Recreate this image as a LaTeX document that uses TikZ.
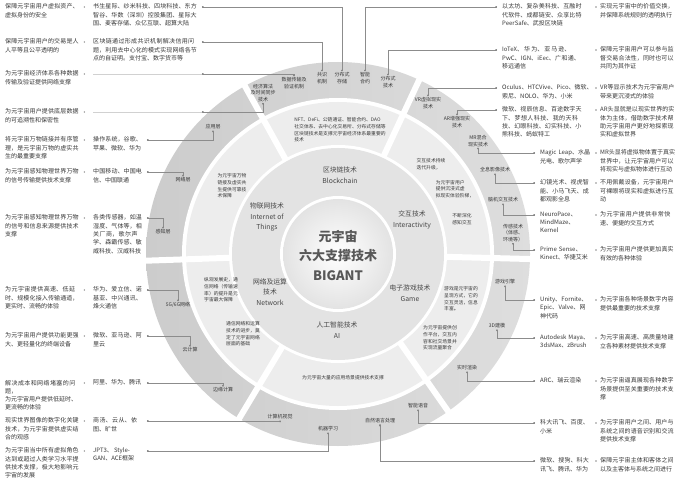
\documentclass[tikz,border=0pt]{standalone}
\usepackage{fontspec}
\setmainfont{Noto Sans CJK SC}
\XeTeXlinebreaklocale "zh"
\XeTeXlinebreakskip=0pt plus 1pt
\usetikzlibrary{arrows.meta}
\colorlet{ink}{black!78}
\colorlet{wire}{black!45}

\begin{document}
\begin{tikzpicture}
		[x=1pt, y=1pt,
		desc/.style ={anchor=north west, inner sep=0pt, text width=75pt, align=left, text=ink, font=\fontsize{6}{8.3}\selectfont},
		firm/.style ={desc, text width=50pt},
		firmwide/.style ={desc, text width=105pt},
		firmright/.style ={desc, text width=81pt},
		seg/.style ={inner sep=1pt, align=center, text=ink, font=\fontsize{5}{6.4}\selectfont},
		tech/.style ={align=center, text=black!72, font=\fontsize{6.8}{10.5}\selectfont},
		note/.style ={inner sep=0pt, align=left, text=ink, font=\fontsize{4.8}{6.6}\selectfont},
		core/.style ={text=black!66, font=\fontsize{13}{15}\selectfont\bfseries},
		lead/.style ={draw=wire, line width=0.45pt, arrows={Circle[length=1.7pt]-Circle[length=1.7pt]}},
		faint/.style ={draw=black!18, line width=0.4pt},
		elbow/.style ={to path={|- (\tikztotarget)}},
		gap/.style ={draw=white, line width=6pt},
		]

		\fill[white] (0,0) rectangle (700,-478);
		\useasboundingbox (0,0) rectangle (700,-478);

		% rings
		\coordinate (ctr) at (338,-254);
		\shade[left color=gray!40, right color=gray!26] (ctr) circle[radius=192];
		\fill[white] (ctr) circle[radius=156];
		\fill[gray!14] (ctr) circle[radius=152];
		\fill[white] (ctr) circle[radius=109];
		\fill[gray!22] (ctr) circle[radius=106];
		\fill[white] (ctr) circle[radius=58];
		\shade[inner color=white, outer color=gray!22] (ctr) circle[radius=55];
		\foreach \a in {65,119,182,239,305,358.5}
			\draw[gap] ([shift={(\a:108)}]ctr) -- ([shift={(\a:195)}]ctr);

		\draw (338,-236) node[core] (ttlA) {元宇宙};
		\draw (338,-256) node[core] (ttlB) {六大支撑技术};
		\draw (338,-276) node[core] (ttlC) {BIGANT};

		\draw (340,-175) node[tech] (tChain) {区块链技术\\Blockchain};
		\draw (267,-217) node[tech] (tIoT) {物联网技术\\Internet of\\Things};
		\draw (412,-220) node[tech] (tInter) {交互技术\\Interactivity};
		\draw (270,-292) node[tech] (tNet) {网络及运算\\技术\\Network};
		\draw (410,-293) node[tech] (tGame) {电子游戏技术\\Game};
		\draw (337,-330) node[tech] (tAI) {人工智能技术\\AI};

		\draw (340,-130) node[note] (nChain) {NFT、DeFi、公链通证、智能合约、DAO\\社交体系、去中心化交易所、分布式存储等\\区块链技术是支撑元宇宙经济体系最重要的\\技术};
		\draw (232,-186) node[note] (nIoT) {为元宇宙万物\\链接及虚实共\\生提供可靠技\\术保障};
		\draw (431,-164) node[note] (nInterA) {交互技术持续\\迭代升级，};
		\draw (455,-189) node[note] (nInterB) {为元宇宙用户\\提供沉浸式虚\\拟现实体验阶梯，};
		\draw (462,-219) node[note] (nInterC) {不断深化\\感知交互};
		\draw (461,-299) node[note] (nGameA) {游戏是元宇宙的\\呈现方式，它的\\交互灵活，信息\\丰富。};
		\draw (440,-338) node[note] (nGameB) {为元宇宙提供创\\作平台，交互内\\容和社交场景并\\实现流量聚合};
		\draw (343,-378) node[note] (nAI) {为元宇宙大量的应用场景提供技术支撑};
		\draw (221,-290) node[note] (nNetA) {纵观发展史，通\\信网络（传输速\\率）的提升是元\\宇宙最大保障};
		\draw (243,-334) node[note] (nNetB) {通信网络和运算\\技术的进步，奠\\定了元宇宙网络\\层面的基础};

		% outer ring labels
		\draw (263,-93) node[seg] (lblAlgo) {经济算法\\及时间同步\\技术};
		\draw (294,-83) node[seg] (lblTrans) {数据传输及\\验证机制};
		\draw (322,-78) node[seg] (lblCons) {共识\\机制};
		\draw (342,-78) node[seg] (lblStore) {分布式\\存储};
		\draw (365,-78) node[seg] (lblContract) {智能\\合约};
		\draw (388,-82) node[seg] (lblDist) {分布式\\技术};
		\draw (428,-103) node[seg] (lblVR) {VR虚拟现实\\技术};
		\draw (457,-122) node[seg] (lblAR) {AR增强现实\\技术};
		\draw (478,-141) node[seg] (lblMR) {MR混合\\现实技术};
		\draw (495,-170) node[seg] (lblHolo) {全息影像技术};
		\draw (503,-200) node[seg] (lblBCI) {脑机交互技术};
		\draw (513,-233) node[seg] (lblSense) {传感技术\\（体感、\\环境等）};
		\draw (505,-282) node[seg] (lblEngine) {游戏引擎};
		\draw (497,-326) node[seg] (lblModel) {3D建模};
		\draw (467,-368) node[seg] (lblRender) {实时渲染};
		\draw (418,-406) node[seg] (lblVoice) {智能语音};
		\draw (380,-421) node[seg] (lblNLP) {自然语言处理};
		\draw (328,-429) node[seg] (lblML) {机器学习};
		\draw (280,-417) node[seg] (lblCV) {计算机视觉};
		\draw (223,-390) node[seg] (lblEdge) {边缘计算};
		\draw (190,-350) node[seg] (lblCloud) {云计算};
		\draw (178,-305) node[seg] (lblG) {5G/6G网络};
		\draw (163,-232) node[seg] (lblPerc) {感知层};
		\draw (183,-180) node[seg] (lblNetL) {网络层};
		\draw (213,-127) node[seg] (lblApp) {应用层};

		% left columns
		\draw (5,-3.7) node[desc] (dL1) {保障元宇宙用户虚拟资产、虚拟身份的安全};
		\draw (5,-38.7) node[desc] (dL2) {保障元宇宙用户的交易是人人平等且公平透明的};
		\draw (5,-70.7) node[desc] (dL3) {为元宇宙经济体系各种数据传输及验证提供网络支撑};
		\draw (5,-108.7) node[desc] (dL4) {为元宇宙用户提供底层数据的可追溯性和保密性};
		\draw (5,-136.7) node[desc] (dL5) {将元宇宙万物链接并有序管理，是元宇宙万物的虚实共生的最重要支撑};
		\draw (5,-168.7) node[desc] (dL6) {为元宇宙感知物理世界万物的信号传输提供技术支撑};
		\draw (5,-214.7) node[desc] (dL7) {为元宇宙感知物理世界万物的信号和信息来源提供技术支撑};
		\draw (5,-286.7) node[desc] (dL8) {为元宇宙提供高速、低延时、规模化接入传输通道，更实时、流畅的体验};
		\draw (5,-332.7) node[desc] (dL9) {为元宇宙用户提供功能更强大、更轻量化的终端设备};
		\draw (5,-379.7) node[desc] (dL10) {解决成本和网络堵塞的问题，\\为元宇宙用户提供低延时、\\更流畅的体验};
		\draw (5,-417.7) node[desc] (dL11) {现实世界图像的数字化关键技术，为元宇宙提供虚实结合的观感};
		\draw (5,-447.7) node[desc] (dL12) {为元宇宙当中所有虚拟角色达到或超过人类学习水平提供技术支撑，极大地影响元宇宙的发展};

		\draw (93,-3.7) node[firmwide] (cL1) {书生星际、纱米科技、四块科技、东方智谷、华数（深圳）控股集团、星际大国、麦客存储、众亿互联、超算大陆};
		\draw (93,-38.7) node[firmwide] (cL2) {区块链通过形成共识机制解决信用问题，利用去中心化的模式实现网络各节点的自证明。支付宝、数字货币等};
		\draw (93,-136.7) node[firm] (cL5) {操作系统，谷歌、苹果、微软、华为};
		\draw (93,-168.7) node[firm] (cL6) {中国移动、中国电信、中国联通};
		\draw (93,-214.7) node[firm] (cL7) {各类传感器，如温湿度、气体等，相关厂商，歌尔声学、森霸传感、敏威科技、汉威科技};
		\draw (93,-286.7) node[firm] (cL8) {华为、爱立信、诺基亚、中兴通讯、烽火通信};
		\draw (93,-332.7) node[firm] (cL9) {微软、亚马逊、阿里云};
		\draw (93,-379.7) node[firm] (cL10) {阿里、华为、腾讯};
		\draw (93,-417.7) node[firm] (cL11) {商汤、云从、依图、旷世};
		\draw (93,-447.7) node[firm] (cL12) {JPT3、StyleGAN、ACE框架};

		% right columns
		\draw (502,-3.7) node[firmright] (cR1) {以太坊、复杂美科技、互融时代软件、成都链安、众享比特PeerSafe、武投区块链};
		\draw (502,-46.7) node[firmright] (cR2) {IoTeX、华为、亚马逊、PwC、IGN、iEec、广和通、移远通信};
		\draw (502,-84.7) node[firmright, text width=92pt] (cR3) {Oculus、HTCVive、Pico、微软、\\索尼、NOLO、华为、小米};
		\draw (502,-106.7) node[firmright] (cR4) {微软、视辰信息、百途数字天下、梦想人科技、我的天科技、幻眼科技、幻实科技、小熊科技、蚂蚁特工};
		\draw (540,-149.7) node[firm] (cR5) {Magic Leap、水晶光电、歌尔声学};
		\draw (540,-179.7) node[firm] (cR6) {幻镜光术、视虎智能、小马飞天、成都观影全息};
		\draw (540,-211.7) node[firm] (cR7) {NeuroPace、\\MindMaze、\\Kernel};
		\draw (540,-246.7) node[firm] (cR8) {Prime Sense、Kinect、华捷艾米};
		\draw (540,-296.7) node[firm] (cR9) {Unity、Fornite、Epic、Valve、网神代码};
		\draw (540,-334.7) node[firm] (cR10) {Autodesk Maya、3dsMax、zBrush};
		\draw (540,-377.7) node[firm] (cR11) {ARC、瑞云渲染};
		\draw (540,-419.7) node[firm] (cR12) {科大讯飞、百度、小米};
		\draw (540,-457.7) node[firm] (cR13) {微软、搜狗、科大讯飞、腾讯、华为};

		\draw (600,-3.7) node[desc] (dR1) {实现元宇宙中的价值交换，并保障系统规则的透明执行};
		\draw (600,-46.7) node[desc] (dR2) {保障元宇宙用户可以参与监督交易合法性，同时也可以共同为其作证};
		\draw (600,-84.7) node[desc] (dR3) {VR等显示技术为元宇宙用户带来更沉浸式的体验};
		\draw (600,-106.7) node[desc] (dR4) {AR头显就是以现实世界的实体为主体，借助数字技术帮助元宇宙用户更好地探索现实和虚拟世界};
		\draw (600,-149.7) node[desc] (dR5) {MR头显将虚拟物体置于真实世界中，让元宇宙用户可以将现实与虚拟物体进行互动};
		\draw (600,-179.7) node[desc] (dR6) {不用佩戴设备，元宇宙用户可裸眼将现实和虚拟进行互动};
		\draw (600,-211.7) node[desc] (dR7) {为元宇宙用户提供非常快速、便捷的交互方式};
		\draw (600,-246.7) node[desc] (dR8) {为元宇宙用户提供更加真实有效的各种体验};
		\draw (600,-296.7) node[desc] (dR9) {为元宇宙各种场景数字内容提供最重要的技术支撑};
		\draw (600,-334.7) node[desc] (dR10) {为元宇宙高速、高质量地建立各种素材提供技术支撑};
		\draw (600,-377.7) node[desc] (dR11) {为元宇宙逼真展现各种数字场景提供至关重要的技术支撑};
		\draw (600,-419.7) node[desc] (dR12) {为元宇宙用户之间、用户与系统之间的语音识别和交流提供技术支撑};
		\draw (600,-457.7) node[desc] (dR13) {保障元宇宙主体和客体之间以及主客体与系统之间进行};

		\foreach \i in {1,...,12}
			\fill[wire] ([shift={(4,-3.3)}]dL\i.north east) circle[radius=0.8];
		\foreach \i in {1,...,13}
			\fill[wire] ([shift={(-4,-3.3)}]dR\i.north west) circle[radius=0.8];

		% leader ends
		\coordinate (pL1) at (202,-7);
		\coordinate (pL2) at (202,-42);
		\coordinate (pL3) at (202,-74);
		\coordinate (sL3) at (93,-74);
		\coordinate (pL4) at (202,-112);
		\coordinate (sL4) at (93,-112);
		\coordinate (pL5) at (147,-140);
		\coordinate (pL6) at (147,-172);
		\coordinate (pL7) at (147,-218);
		\coordinate (pL8) at (147,-290);
		\coordinate (pL9) at (147,-336);
		\coordinate (pL10) at (147,-383);
		\coordinate (pL11) at (147,-421);
		\coordinate (pL12) at (147,-451);
		\coordinate (pR1) at (497,-7);
		\coordinate (pR2) at (497,-50);
		\coordinate (pR3) at (497,-88);
		\coordinate (pR4) at (497,-110);
		\coordinate (pR5) at (535,-153);
		\coordinate (pR6) at (535,-183);
		\coordinate (pR7) at (535,-215);
		\coordinate (pR8) at (535,-250);
		\coordinate (pR9) at (535,-300);
		\coordinate (pR10) at (535,-338);
		\coordinate (pR11) at (535,-381);
		\coordinate (pR12) at (535,-423);
		\coordinate (pR13) at (535,-461);

		\path[faint]
		(sL3) edge (pL3)
		(sL4) edge (pL4);

		\path[lead]
		(lblStore.north) edge[elbow] (pL1)
		(lblCons.north) edge[elbow] (pL2)
		(lblTrans.north) edge[elbow] (pL3)
		(lblAlgo.south) edge[elbow] (pL4)
		(lblApp.south) edge[elbow] (pL5)
		(lblNetL.north) edge[elbow] (pL6)
		(lblPerc.north) edge[elbow] (pL7)
		(lblG.north) edge[elbow] (pL8)
		(lblCloud.north) edge[elbow] (pL9)
		(lblEdge.north) edge[elbow] (pL10)
		(lblCV.south) edge[elbow] (pL11)
		(lblML.south) edge[elbow] (pL12)
		(lblContract.north) edge[elbow] (pR1)
		(lblDist.north) edge[elbow] (pR2)
		(lblVR.north) edge[elbow] (pR3)
		(lblAR.north) edge[elbow] (pR4)
		(lblMR.south) edge[elbow] (pR5)
		(lblHolo.south) edge[elbow] (pR6)
		(lblBCI.south) edge[elbow] (pR7)
		(lblSense.south) edge[elbow] (pR8)
		(lblEngine.south) edge[elbow] (pR9)
		(lblModel.south) edge[elbow] (pR10)
		(lblRender.south) edge[elbow] (pR11)
		(lblVoice.south) edge[elbow] (pR12)
		(lblNLP.south) edge[elbow] (pR13);

	\end{tikzpicture}
\end{document}
